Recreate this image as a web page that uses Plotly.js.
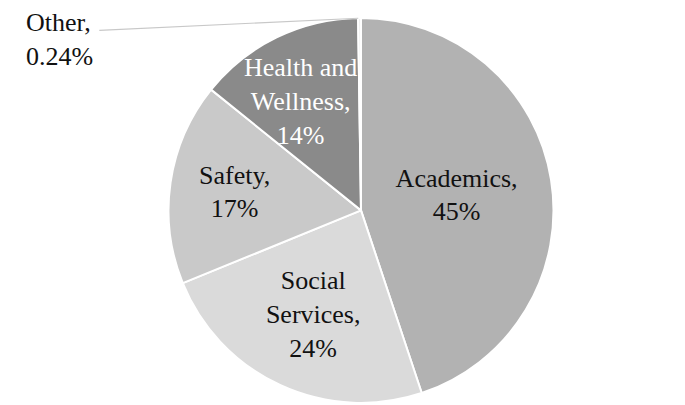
<!DOCTYPE html>
<html>
<head>
<meta charset="utf-8">
<script src="https://cdn.plot.ly/plotly-3.0.1.min.js"></script>
<style>html,body{margin:0;padding:0;background:#fff;}#chart{width:685px;height:405px;}</style>
</head>
<body>
<div id="chart"></div>
<script>
const categories = ["Academics", "Social<br>Services", "Safety", "Health and<br>Wellness", "Other"];
const shares = [45, 24, 17, 14, 0.24];
const sliceColors = ["#b2b2b2", "#dadada", "#c9c9c9", "#8a8a8a", "#eeeeee"];
const textColors = ["#111111", "#111111", "#111111", "#ffffff", "#111111"];

const serif = "Liberation Serif";
// slices whose label is placed as an annotation (outside / would be shrunk)
const annotated = [3, 4];
const labelTexts = categories.map((c, i) => annotated.includes(i) ? "" : c + ",<br>" + shares[i] + "%");

const trace = {
  type: "pie",
  labels: categories,
  values: shares,
  text: labelTexts,
  textinfo: "text",
  textposition: "inside",
  insidetextorientation: "horizontal",
  sort: false,
  direction: "clockwise",
  rotation: 0,
  marker: { colors: sliceColors, line: { color: "#ffffff", width: 2 } },
  textfont: { family: serif, size: 26, color: textColors },
  insidetextfont: { family: serif, size: 26, color: textColors },
  hoverinfo: "none",
  showlegend: false,
  domain: { x: [0.246, 0.808], y: [0.005, 0.956] }
};

const layout = {
  width: 685, height: 405,
  margin: { l: 0, r: 0, t: 0, b: 0 },
  paper_bgcolor: "#ffffff",
  font: { family: serif, size: 26, color: "#111111" },
  showlegend: false,
  annotations: [{
    xref: "paper", yref: "paper", x: 0.035, y: 0.985, xanchor: "left", yanchor: "top",
    align: "left", showarrow: false,
    text: "Other,<br>" + shares[4] + "%",
    font: { family: serif, size: 26, color: textColors[4] }
  }, {
    xref: "paper", yref: "paper", x: 0.439, y: 0.75, xanchor: "center", yanchor: "middle",
    align: "center", showarrow: false,
    text: categories[3] + ",<br>" + shares[3] + "%",
    font: { family: serif, size: 26, color: textColors[3] }
  }],
  shapes: [{
    type: "line", xref: "paper", yref: "paper",
    x0: 0.145, y0: 0.925, x1: 0.523, y1: 0.955,
    line: { color: "#c8c8c8", width: 1.2 }
  }]
};

Plotly.newPlot("chart", [trace], layout, { displayModeBar: false, staticPlot: true });
</script>
</body>
</html>
